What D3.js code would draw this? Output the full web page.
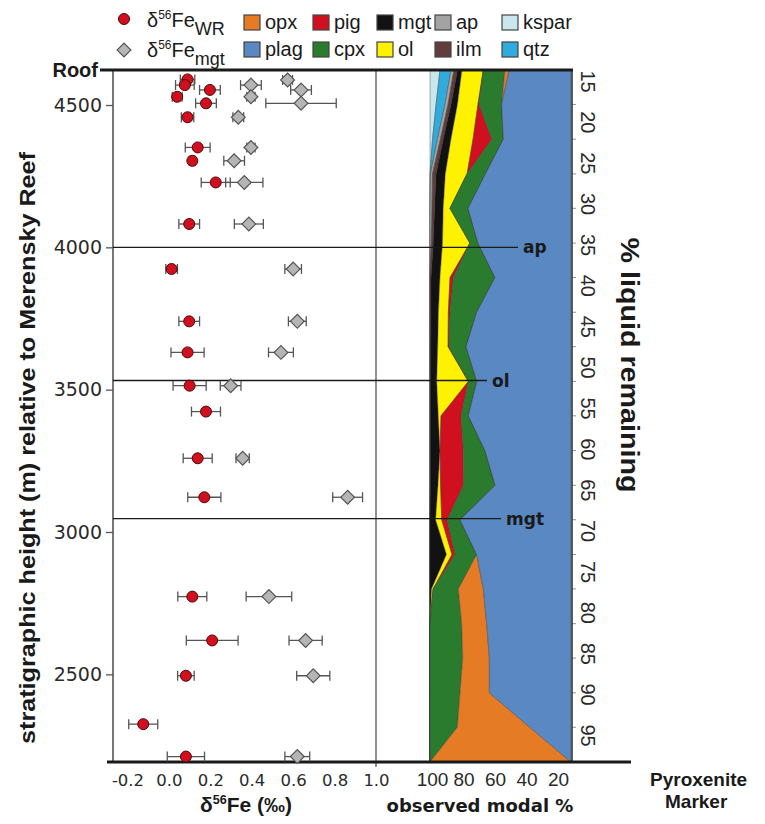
<!DOCTYPE html>
<html>
<head>
<meta charset="utf-8">
<script src="https://cdn.jsdelivr.net/npm/d3@7"></script>
<style>
    body { margin: 0; background: #fff; }
    svg { display: block; }
</style>
</head>
<body>
<svg width="765" height="824"></svg>
<script>
// whole-rock d56Fe (permil), height (m), 2sd
const wrValues = [0.090, 0.077, 0.198, 0.040, 0.179, 0.090, 0.139, 0.113, 0.226, 0.098, 0.013,
    0.098, 0.090, 0.100, 0.179, 0.139, 0.171, 0.113, 0.209, 0.082, -0.124, 0.082];
const wrHeights = [4590, 4570, 4553, 4529, 4506, 4457, 4351, 4304, 4228, 4082, 3924,
    3740, 3631, 3514, 3423, 3259, 3122, 2773, 2619, 2495, 2325, 2211];
const wrErrors = [0.035, 0.045, 0.05, 0.024, 0.05, 0.03, 0.06, 0.015, 0.07, 0.05, 0.028,
    0.05, 0.08, 0.08, 0.07, 0.07, 0.08, 0.07, 0.125, 0.04, 0.07, 0.09];

// magnetite d56Fe
const mgtValues = [0.573, 0.396, 0.638, 0.396, 0.638, 0.335, 0.396, 0.315, 0.364, 0.386,
    0.600, 0.620, 0.541, 0.298, 0.356, 0.863, 0.483, 0.660, 0.697, 0.620];
const mgtHeights = [4588, 4570, 4553, 4529, 4506, 4457, 4351, 4304, 4228, 4082,
    3924, 3740, 3631, 3514, 3259, 3122, 2773, 2619, 2495, 2211];
const mgtErrors = [0.024, 0.05, 0.05, 0.02, 0.17, 0.026, 0.02, 0.05, 0.09, 0.07,
    0.04, 0.043, 0.06, 0.05, 0.032, 0.072, 0.11, 0.08, 0.08, 0.06];

// observed modal % at each level (roof -> pyroxenite marker)
const modeLevels = [4623, 4502, 4380, 4258, 4137, 4015, 3894, 3772, 3651, 3529, 3408,
    3286, 3164, 3043, 2921, 2800, 2678, 2557, 2435, 2314, 2192];
const kspar = [7.1, 4.3, 1.8, 0, 0, 0, 0, 0, 0, 0, 0, 0, 0, 0, 0, 0, 0, 0, 0, 0, 0];
const qtz = [7.8, 6.4, 3.5, 0.4, 0, 0, 0, 0, 0, 0, 0, 0, 0, 0, 0, 0, 0, 0, 0, 0, 0];
const ap = [2.1, 2.1, 2.1, 1.4, 1.4, 0.9, 0, 0, 0, 0, 0, 0, 0, 0, 0, 0, 0, 0, 0, 0, 0];
const ilm = [2.5, 2.1, 2.0, 2.5, 1.8, 1.4, 0.7, 0.7, 0.5, 0.4, 0.4, 0.4, 0.4, 0, 0, 0, 0, 0, 0, 0, 0];
const mgt = [3.2, 4.6, 5.5, 6.6, 6.2, 6.6, 6.4, 5.3, 5.0, 4.4, 5.5, 6.7, 5.3, 4.0, 11.7, 1.1, 0, 0, 0, 0, 0];
const ol = [15.1, 14.5, 15.6, 15.4, 4.8, 19.4, 7.1, 7.0, 7.3, 22.4, 1.9, 0, 1.8, 4.3, 3.9, 1.1, 0, 0, 0, 0, 0];
const pig = [0, 0.7, 13.3, 0, 0, 0, 2.3, 1.2, 0.7, 0, 14.2, 16.5, 16.2, 3.8, 2.1, 0, 0, 0, 0, 0, 0];
const cpx = [15.4, 16.1, 8.2, 13.0, 12.8, 5.7, 29.6, 18.9, 12.1, 6.0, 5.2, 15.4, 22.5, 9.2, 15.4, 17.9, 22.5, 23.2, 21.3, 19.4, 0];
const opx = [3.0, 0, 0, 0, 0, 0, 0, 0, 0, 0, 0, 0, 0, 0, 0, 17.7, 17.7, 18.9, 20.8, 51.3, 100];
const plag = [43.8, 49.2, 48.0, 60.7, 73.0, 66.0, 53.9, 66.9, 74.4, 66.8, 72.8, 61.0, 53.8, 78.7, 66.9, 62.2, 59.8, 57.9, 57.9, 29.3, 0];

const mineralNames = ['kspar', 'qtz', 'ap', 'ilm', 'mgt', 'ol', 'pig', 'cpx', 'opx', 'plag'];
const mineralModes = [kspar, qtz, ap, ilm, mgt, ol, pig, cpx, opx, plag];

// phase-in markers
const markerNames = ['ap', 'ol', 'mgt'];
const markerHeights = [4000, 3532, 3047];

// ticks
const heightTicks = [4500, 4000, 3500, 3000, 2500];
const feTicks = [-0.2, 0.0, 0.2, 0.4, 0.6, 0.8, 1.0];
const modeTicks = [100, 80, 60, 40, 20];
const liquidTicks = [15, 20, 25, 30, 35, 40, 45, 50, 55, 60, 65, 70, 75, 80, 85, 90, 95];

// legend
const legendMinerals = ['opx', 'pig', 'mgt', 'ap', 'kspar', 'plag', 'cpx', 'ol', 'ilm', 'qtz'];

const COLORS = {
    kspar: '#c9e7ec', qtz: '#2fabdc', ap: '#a3a3a3', ilm: '#633c3c', mgt: '#121212',
    ol: '#fff200', pig: '#d0101f', cpx: '#2a7b2d', opx: '#e57b25', plag: '#5a88c2'
};
const RED = '#d0101f', GREY = '#b5b5b5', INK = '#1a1a1a';
const TOP = 70, BOTTOM = 762, LEFT = 113, MID = 376, RIGHT = 572;

const svg = d3.select('svg');

const y = d3.scaleLinear().domain([2192, 4623]).range([BOTTOM, TOP]);
const xFe = d3.scaleLinear().domain([-0.27, 1.0]).range([LEFT, MID]);
const xMode = d3.scaleLinear().domain([0, 100]).range([430, 571]);
const xModeTick = d3.scaleLinear().domain([100, 20]).range([432, 558]);
const yLiquid = d3.scaleLinear().domain([15, 95]).range([81, 735]);

// stacked modal areas
const rows = modeLevels.map((h, i) => {
    let row = {h: h};
    mineralNames.forEach((m, j) => row[m] = mineralModes[j][i]);
    return row;
});
const series = d3.stack().keys(mineralNames)(rows);
const area = d3.area()
    .y(d => y(d.data.h))
    .x0(d => xMode(d[0]))
    .x1(d => xMode(d[1]));

svg.append('g').selectAll('path')
    .data(series)
    .join('path')
    .attr('d', area)
    .attr('fill', d => COLORS[d.key])
    .attr('stroke', '#3a3a3a')
    .attr('stroke-width', 0.4);

// right-hand level ticks
svg.append('g').selectAll('line')
    .data(modeLevels.slice(1, -1))
    .join('line')
    .attr('x1', RIGHT).attr('x2', RIGHT + 4)
    .attr('y1', d => y(d)).attr('y2', d => y(d))
    .attr('stroke', '#777').attr('stroke-width', 0.8);

// frame lines
const frame = svg.append('g').attr('stroke-linecap', 'butt');
frame.append('line').attr('x1', LEFT).attr('x2', LEFT).attr('y1', TOP).attr('y2', BOTTOM)
    .attr('stroke', '#555').attr('stroke-width', 1.6);
frame.append('line').attr('x1', MID).attr('x2', MID).attr('y1', TOP).attr('y2', BOTTOM + 5)
    .attr('stroke', '#555').attr('stroke-width', 1.3);
frame.append('line').attr('x1', RIGHT).attr('x2', RIGHT).attr('y1', TOP).attr('y2', BOTTOM)
    .attr('stroke', '#333').attr('stroke-width', 1.6);
frame.append('line').attr('x1', 100).attr('x2', RIGHT + 1).attr('y1', TOP).attr('y2', TOP)
    .attr('stroke', INK).attr('stroke-width', 3);
frame.append('line').attr('x1', 107).attr('x2', 631).attr('y1', BOTTOM).attr('y2', BOTTOM)
    .attr('stroke', INK).attr('stroke-width', 3);

// phase-in marker lines
const MARKER_END = [518, 487, 501];
markerNames.forEach((name, i) => {
    const yy = y(markerHeights[i]);
    svg.append('line')
        .attr('x1', LEFT).attr('x2', MARKER_END[i])
        .attr('y1', yy).attr('y2', yy)
        .attr('stroke', INK).attr('stroke-width', 1.4);
    svg.append('text')
        .attr('x', MARKER_END[i] + 5).attr('y', yy + 6)
        .attr('font-family', 'DejaVu Sans').attr('font-weight', 'bold')
        .attr('font-size', 17).attr('fill', INK)
        .text(name);
});

// axes
const yAxis = svg.append('g')
    .attr('transform', `translate(${LEFT},0)`)
    .call(d3.axisLeft(y).tickValues(heightTicks).tickSize(7).tickPadding(4).tickFormat(d3.format('d')));
yAxis.select('.domain').remove();
yAxis.selectAll('line').attr('stroke', '#555').attr('stroke-width', 1.3);
yAxis.selectAll('text').attr('font-family', 'DejaVu Sans').attr('font-size', 19).attr('fill', '#2a2a2a');

const feAxis = svg.append('g')
    .attr('transform', `translate(0,${BOTTOM})`)
    .call(d3.axisBottom(xFe).tickValues(feTicks).tickSize(0).tickPadding(12)
        .tickFormat(d => d3.format('.1f')(d).replace('−', '-')));
feAxis.select('.domain').remove();
feAxis.selectAll('text').attr('font-family', 'DejaVu Sans').attr('font-size', 16.5).attr('fill', '#2a2a2a');

const modeAxis = svg.append('g')
    .attr('transform', `translate(0,${BOTTOM})`)
    .call(d3.axisBottom(xModeTick).tickValues(modeTicks).tickSize(0).tickPadding(11));
modeAxis.select('.domain').remove();
modeAxis.selectAll('text').attr('font-family', 'Liberation Sans').attr('font-size', 19).attr('fill', '#2a2a2a');

const liqAxis = svg.append('g')
    .attr('transform', `translate(${RIGHT},0)`)
    .call(d3.axisRight(yLiquid).tickValues(liquidTicks).tickSize(0));
liqAxis.select('.domain').remove();
liqAxis.selectAll('text')
    .attr('x', 0).attr('dy', '0.35em')
    .attr('text-anchor', 'middle')
    .attr('transform', 'translate(16,0) rotate(90)')
    .attr('font-family', 'Liberation Sans').attr('font-size', 20).attr('fill', '#2a2a2a');

// error bars and points
function errorBars(values, heights, errors) {
    const g = svg.append('g').attr('stroke', '#555').attr('stroke-width', 1.3).attr('fill', 'none');
    values.forEach((v, i) => {
        const yy = y(heights[i]), xa = xFe(v - errors[i]), xb = xFe(v + errors[i]);
        g.append('line').attr('x1', xa).attr('x2', xb).attr('y1', yy).attr('y2', yy);
        g.append('line').attr('x1', xa).attr('x2', xa).attr('y1', yy - 5).attr('y2', yy + 5);
        g.append('line').attr('x1', xb).attr('x2', xb).attr('y1', yy - 5).attr('y2', yy + 5);
    });
}

errorBars(mgtValues, mgtHeights, mgtErrors);
const diamond = d3.symbol().type(d3.symbolSquare).size(95);
svg.append('g').selectAll('path')
    .data(mgtValues)
    .join('path')
    .attr('d', diamond)
    .attr('transform', (d, i) => `translate(${xFe(d)},${y(mgtHeights[i])}) rotate(45)`)
    .attr('fill', GREY).attr('stroke', '#555').attr('stroke-width', 1.2);

errorBars(wrValues, wrHeights, wrErrors);
svg.append('g').selectAll('circle')
    .data(wrValues)
    .join('circle')
    .attr('cx', d => xFe(d))
    .attr('cy', (d, i) => y(wrHeights[i]))
    .attr('r', 5.5)
    .attr('fill', RED).attr('stroke', '#4a0a0a').attr('stroke-width', 1);

// titles
function feLabel(text, sub, size) {
    text.append('tspan').text('δ');
    text.append('tspan').attr('dy', -size * 0.38).attr('font-size', size * 0.6).text('56');
    text.append('tspan').attr('dy', size * 0.38).text('Fe');
    if (sub) text.append('tspan').attr('dy', size * 0.4).attr('font-size', size * 0.9).text(sub);
}

svg.append('text')
    .attr('x', 98).attr('y', TOP + 7)
    .attr('text-anchor', 'end')
    .attr('font-family', 'Liberation Sans').attr('font-weight', 'bold').attr('font-size', 20)
    .attr('fill', INK).text('Roof');

svg.append('text')
    .attr('transform', 'translate(27,448) rotate(-90)')
    .attr('dy', '0.35em')
    .attr('text-anchor', 'middle')
    .attr('font-family', 'Liberation Sans').attr('font-weight', 'bold').attr('font-size', 22)
    .attr('textLength', 592).attr('lengthAdjust', 'spacingAndGlyphs')
    .attr('fill', INK).text('stratigraphic height (m) relative to Merensky Reef');

svg.append('text')
    .attr('transform', 'translate(630,365) rotate(90)')
    .attr('dy', '0.35em')
    .attr('text-anchor', 'middle')
    .attr('font-family', 'Liberation Sans').attr('font-weight', 'bold').attr('font-size', 25)
    .attr('textLength', 255).attr('lengthAdjust', 'spacingAndGlyphs')
    .attr('fill', INK).text('% liquid remaining');

const feTitle = svg.append('text')
    .attr('x', 246).attr('y', 812)
    .attr('text-anchor', 'middle')
    .attr('font-family', 'Liberation Sans').attr('font-weight', 'bold').attr('font-size', 21)
    .attr('fill', INK);
feLabel(feTitle, null, 21);
feTitle.append('tspan').text(' (‰)');

svg.append('text')
    .attr('x', 480).attr('y', 812)
    .attr('text-anchor', 'middle')
    .attr('font-family', 'DejaVu Sans').attr('font-weight', 'bold').attr('font-size', 18)
    .attr('fill', INK).text('observed modal %');

svg.append('text')
    .attr('x', 650).attr('y', 786)
    .attr('font-family', 'Liberation Sans').attr('font-weight', 'bold').attr('font-size', 19)
    .attr('fill', INK).text('Pyroxenite');
svg.append('text')
    .attr('x', 665).attr('y', 808)
    .attr('font-family', 'Liberation Sans').attr('font-weight', 'bold').attr('font-size', 19)
    .attr('fill', INK).text('Marker');

// legend
const legend = svg.append('g')
    .attr('font-family', "'Liberation Sans Narrow', 'Arial Narrow', sans-serif")
    .attr('font-size', 20).attr('fill', INK);

legend.append('circle').attr('cx', 124).attr('cy', 19).attr('r', 5.5)
    .attr('fill', RED).attr('stroke', '#4a0a0a').attr('stroke-width', 1);
feLabel(legend.append('text').attr('x', 147).attr('y', 27), 'WR', 20);

legend.append('path').attr('d', diamond)
    .attr('transform', 'translate(124,50) rotate(45)')
    .attr('fill', GREY).attr('stroke', '#555').attr('stroke-width', 1.2);
feLabel(legend.append('text').attr('x', 147).attr('y', 57), 'mgt', 20);

const SWATCH_X = [244, 313, 377, 435, 502];
legendMinerals.forEach((m, i) => {
    const sx = SWATCH_X[i % 5], sy = i < 5 ? 15 : 42;
    legend.append('rect')
        .attr('x', sx).attr('y', sy).attr('width', 16).attr('height', 15)
        .attr('fill', COLORS[m]).attr('stroke', '#444').attr('stroke-width', 1.2);
    legend.append('text')
        .attr('x', sx + 21).attr('y', sy + 14)
        .text(m);
});
</script>
</body>
</html>
